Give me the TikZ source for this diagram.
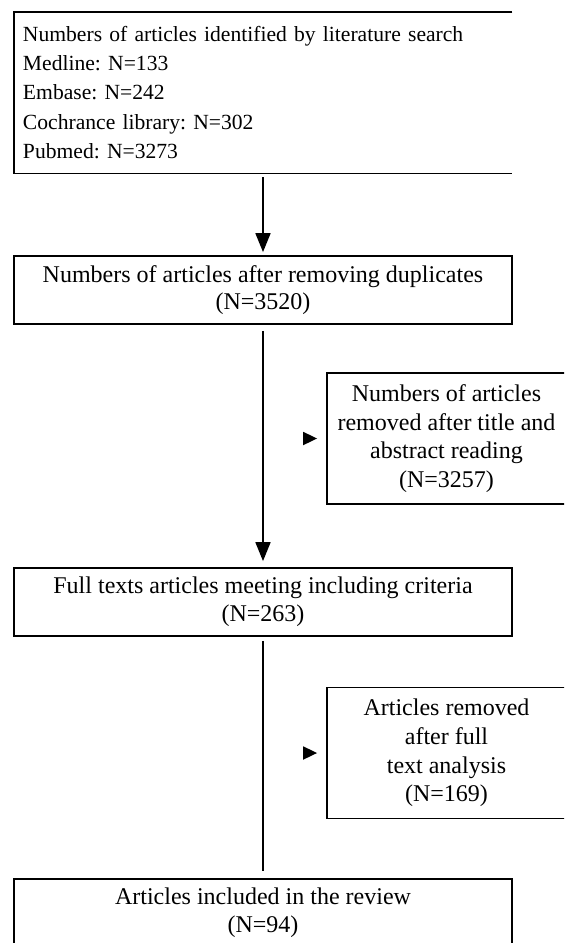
\documentclass[tikz,border=0pt]{standalone}
\usepackage{fontspec}
\setmainfont{Liberation Serif}
\usepackage{tikz}
\usetikzlibrary{arrows.meta, positioning}

\tikzset{
    stage/.style={draw, line width=0.9pt, minimum width=249pt, minimum height=34pt,
        align=center, inner sep=0pt, font=\fontsize{12}{13.8}\selectfont},
    sidebox/.style={draw, line width=0.9pt, minimum width=119.5pt, minimum height=65.5pt,
        align=center, inner sep=0pt, font=\fontsize{12}{14.4}\selectfont},
    flow/.style={line width=0.9pt, -{Triangle[width=7.5pt,length=9.5pt]}},
    sidetip/.style={line width=0.9pt, -{Triangle[width=6.5pt,length=7pt]}, shorten >=4.5pt}
}

\begin{document}
\frenchspacing
\begin{tikzpicture}[x=0.5pt, y=-0.5pt]
    % Khung hình
    \useasboundingbox (0,0) rectangle (564,943);
    \clip (0,0) rectangle (564,943);

    % Các hộp chính
    \node[minimum width=249pt, minimum height=80.5pt, inner xsep=4.5pt, inner ysep=0pt,
        text width=240pt, align=left, font=\fontsize{10.8}{14.6}\selectfont]
        (search) at (263,92.5) {Numbers of articles identified by literature search\\
        Medline: N=133\\ Embase: N=242\\ Cochrance library: N=302\\ Pubmed: N=3273};
    \draw[line width=0.9pt] (search.north east) -- (search.north west)
        -- (search.south west) -- (search.south east);

    \node[stage] (dedup) at (263,290) {Numbers of articles after removing duplicates\\(N=3520)};
    \node[stage] (fulltext) at (263,602) {Full texts articles meeting including criteria\\(N=263)};
    \node[stage] (included) at (263,913) {Articles included in the review\\(N=94)};

    % Các hộp loại bỏ
    \node[sidebox] (screen) at (446.5,438.5) {Numbers of articles\\removed after title and\\abstract reading\\(N=3257)};
    \node[sidebox] (fullrem) at (446.5,753) {Articles removed\\after full\\text analysis\\(N=169)};

    % Mũi tên
    \draw[flow, shorten <=2pt, shorten >=1.5pt] (search.south) -- (dedup.north);
    \draw[flow, shorten <=3pt, shorten >=3pt] (dedup.south) -- (fulltext.north);
    \draw[line width=0.9pt, shorten <=2pt, shorten >=3.5pt] (fulltext.south) -- (included.north);

    \foreach \s in {screen, fullrem} {
        \coordinate (\s-tail) at ([xshift=-11pt]\s.west);
        \draw[sidetip] (\s-tail) -- (\s.west);
    }
\end{tikzpicture}
\end{document}
